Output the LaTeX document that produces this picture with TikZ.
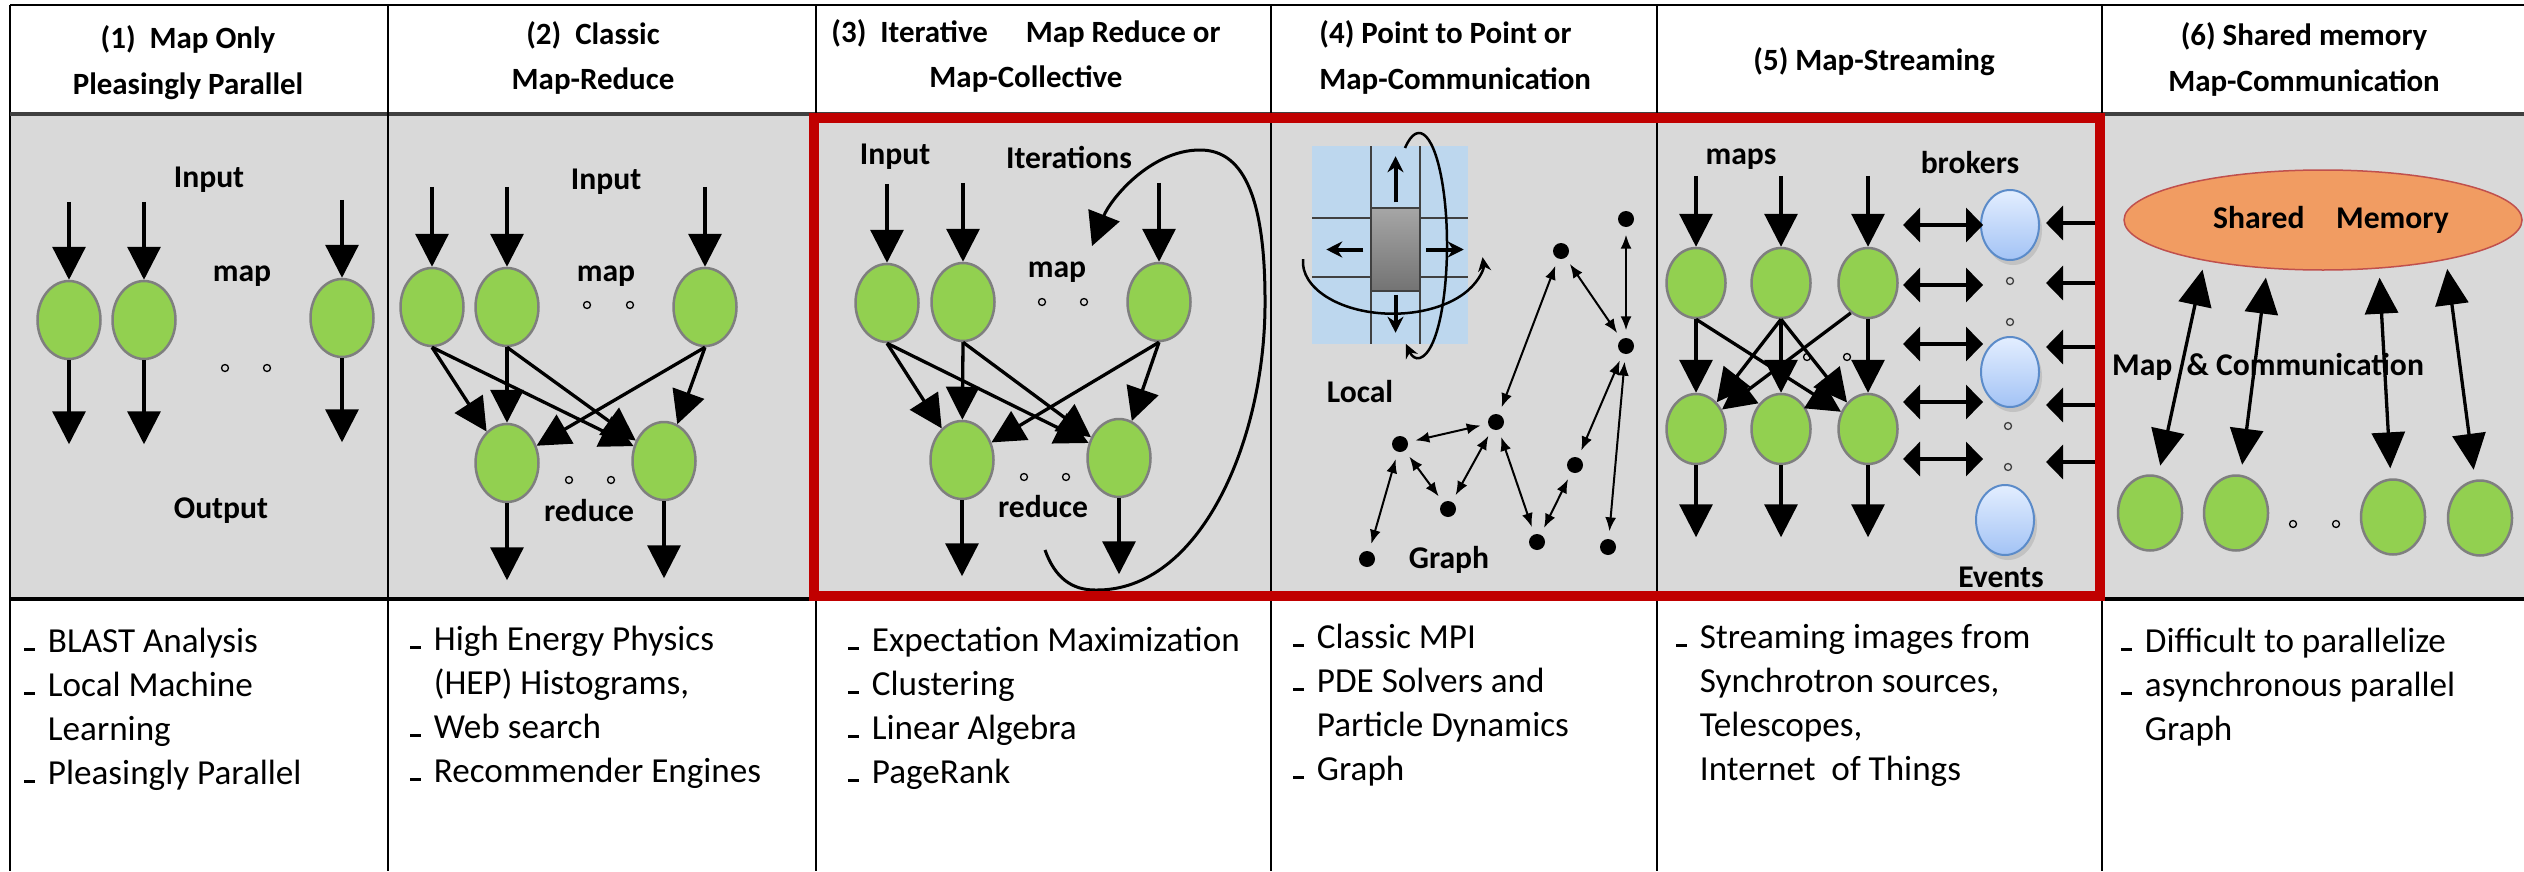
\documentclass[tikz,border=0pt]{standalone}
\usepackage{fontspec}
\setmainfont{Carlito}
\usetikzlibrary{arrows.meta,shapes.geometric,shadows}
\definecolor{Panel}{HTML}{D9D9D9}
\definecolor{Leaf}{HTML}{92D050}
\definecolor{Rim}{HTML}{7F7F7F}
\definecolor{Frame}{HTML}{C00000}
\definecolor{Memo}{HTML}{F19C62}
\definecolor{MemoRim}{HTML}{C0504D}
\definecolor{Sky}{HTML}{BDD7EE}
\definecolor{Grid}{HTML}{404040}
\definecolor{BlockTop}{HTML}{A6A6A6}
\definecolor{BlockBot}{HTML}{737373}
\definecolor{BrokTop}{HTML}{E3EEFF}
\definecolor{BrokBot}{HTML}{A3C3F5}
\definecolor{BrokRim}{HTML}{5B8BC9}
\newcommand{\itm}{\makebox[2.35mm][l]{\rule[0.1mm]{1.1mm}{0.3mm}}}
\newcommand{\cont}{\hspace*{2.35mm}}

\begin{document}
\begin{tikzpicture}[x=0.1mm,y=-0.1mm,
  mapnode/.style={ellipse,draw=Rim,line width=0.25mm,fill=Leaf,minimum width=6.3mm,minimum height=7.8mm,inner sep=0pt},
  broker/.style={ellipse,draw=BrokRim,line width=0.2mm,top color=BrokTop,bottom color=BrokBot,minimum width=5.8mm,minimum height=7mm,inner sep=0pt,drop shadow={opacity=0.25,shadow xshift=0.3mm,shadow yshift=-0.5mm}},
  block/.style={rectangle,draw=Grid,line width=0.15mm,top color=BlockTop,bottom color=BlockBot,minimum width=4.9mm,minimum height=8.3mm,inner sep=0pt},
  tick/.style={circle,draw,line width=0.13mm,inner sep=0pt,minimum size=0.7mm},
  gdot/.style={circle,fill,inner sep=0pt,minimum size=1.6mm},
  fat/.style={line width=0.33mm,-{Triangle[length=3.3mm,width=3.3mm]}},
  darr/.style={line width=0.33mm,{Triangle[length=1.7mm,width=3.4mm]}-{Triangle[length=1.7mm,width=3.4mm]}},
  harr/.style={line width=0.33mm,-{Triangle[length=1.7mm,width=3.4mm]}},
  marr/.style={line width=0.33mm,{Triangle[length=3.6mm,width=3.3mm]}-{Triangle[length=3.6mm,width=3.3mm]},shorten <=1mm,shorten >=0.9mm},
  sarr/.style={line width=0.4mm,-{Stealth[length=1.6mm,width=1.6mm]}},
  orb/.style={line width=0.25mm,-{Stealth[length=1.4mm,width=1.3mm]}},
  gl/.style={line width=0.2mm,{Latex[length=1.4mm,width=1.1mm]}-{Latex[length=1.4mm,width=1.1mm]},shorten <=0.7mm,shorten >=0.7mm},
  lbl/.style={font=\bfseries\fontsize{9}{11}\selectfont},
  hdr/.style={font=\bfseries\fontsize{8.8}{13}\selectfont,align=center,anchor=base},
  txt/.style={font=\fontsize{10}{12.5}\selectfont,align=left,anchor=base west}]
  \useasboundingbox (0,0) rectangle (2524,871);
  \fill[Panel] (10,114) rectangle (2524,599);
  \fill[Sky] (1312,146) rectangle (1468,344);
  \draw[Grid,line width=0.15mm] (1371,146) -- (1371,344) (1420,146) -- (1420,344) (1312,218) -- (1468,218) (1312,277) -- (1468,277);
  \draw[line width=0.2mm] (10,5) -- (2524,5) (10,5) -- (10,871);
  \draw[Grid,line width=0.35mm] (10,114) -- (2524,114);
  \draw[line width=0.35mm] (10,599) -- (2524,599);
  \foreach \x in {388,816,1271,1657,2102}
    \draw[line width=0.2mm] (\x,5) -- (\x,871);

  \node[hdr] (h1) at (188,94) {(1)\ \ Map Only\\Pleasingly Parallel};
  \node[hdr] (h2) at (593,90) {(2)\ \ Classic\\Map-Reduce};
  \node[hdr] (h3) at (1026,88) {(3)\ \ Iterative\quad\ Map Reduce or\\Map-Collective};
  \node[hdr,anchor=base west,align=left] (h4) at (1307,89) {(4) Point to Point or\\Map-Communication};
  \node[hdr] (h5) at (1874,70) {(5) Map-Streaming};
  \node[hdr] (h6) at (2304,91) {(6) Shared memory\\Map-Communication};

  \node[lbl] (in1) at (209,180) {Input};
  \node[lbl] (mp1) at (242,276) {map};
  \node[lbl] (out1) at (221,511) {Output};
  \node[tick] (d11) at (225,368) {};
  \node[tick] (d12) at (267,368) {};
  \node[mapnode] (a1) at (69,320) {};
  \node[mapnode] (a2) at (144,320) {};
  \node[mapnode] (a3) at (342,318) {};
  \foreach \n in {a1,a2,a3} {
    \draw[fat] ([yshift=7.8mm]\n.north) -- (\n.north);
    \draw[fat] (\n.south) -- ([yshift=-8.4mm]\n.south);
  }

  \node[lbl] (in2) at (606,182) {Input};
  \node[lbl] (mp2) at (606,276) {map};
  \node[lbl] (rd2) at (589,511) {reduce};
  \node[tick] (d21) at (587,305) {};
  \node[tick] (d22) at (630,305) {};
  \node[tick] (d23) at (569,480) {};
  \node[tick] (d24) at (611,480) {};
  \node[mapnode] (m1) at (432,307) {};
  \node[mapnode] (m2) at (507,307) {};
  \node[mapnode] (m3) at (705,307) {};
  \node[mapnode] (r1) at (507,463) {};
  \node[mapnode] (r2) at (664,461) {};
  \foreach \n in {m1,m2,m3}
    \draw[fat] ([yshift=8mm]\n.north) -- (\n.north);
  \foreach \s/\t in {m1/r1,m1/r2,m2/r1,m2/r2,m3/r1,m3/r2}
    \draw[fat] (\s.south) -- (\t);
  \foreach \n in {r1,r2}
    \draw[fat] (\n.south) -- ([yshift=-7.7mm]\n.south);

  \node[lbl] (in3) at (895,157) {Input};
  \node[lbl] (it3) at (1069,157) {Iterations};
  \node[lbl] (mp3) at (1057,272) {map};
  \node[lbl] (rd3) at (1043,507) {reduce};
  \node[tick] (d31) at (1042,302) {};
  \node[tick] (d32) at (1084,302) {};
  \node[tick] (d33) at (1024,477) {};
  \node[tick] (d34) at (1066,477) {};
  \node[mapnode] (p1) at (887,303) {};
  \node[mapnode] (p2) at (963,302) {};
  \node[mapnode] (p3) at (1159,302) {};
  \node[mapnode] (s1) at (962,460) {};
  \node[mapnode] (s2) at (1119,458) {};
  \foreach \n in {p1,p2,p3}
    \draw[fat] ([yshift=7.9mm]\n.north) -- (\n.north);
  \foreach \s/\t in {p1/s1,p1/s2,p2/s1,p2/s2,p3/s1,p3/s2}
    \draw[fat] (\s.south) -- (\t);
  \foreach \n in {s1,s2}
    \draw[fat] (\n.south) -- ([yshift=-7.6mm]\n.south);
  \draw[line width=0.3mm,-{Triangle[length=3.3mm,width=3.3mm]}] (1045,550)
    .. controls (1055,578) and (1072,590) .. (1095,590)
    .. controls (1200,592) and (1266,440) .. (1265,300)
    .. controls (1265,180) and (1235,150) .. (1200,150)
    .. controls (1150,150) and (1110,200) .. (1092,246);

  \node[block] (cell) at (1395.5,249.5) {};
  \draw[sarr] ([yshift=0.5mm]cell.north) -- ([yshift=5.1mm]cell.north);
  \draw[sarr] ([yshift=-0.3mm]cell.south) -- ([yshift=-4.1mm]cell.south);
  \draw[sarr] ([xshift=-0.7mm]cell.west) -- ([xshift=-4.4mm]cell.west);
  \draw[sarr] ([xshift=0.5mm]cell.east) -- ([xshift=4.3mm]cell.east);
  \draw[orb] (1303,259) arc[start angle=-177,end angle=-365,x radius=90,y radius=52];
  \draw[orb] (1405,148) arc[start angle=-120,end angle=118,x radius=28,y radius=112];
  \node[lbl] (loc) at (1360,392) {Local};
  \node[lbl] (gr) at (1449,560) {Graph};
  \node[gdot] (g1) at (1367,559) {};
  \node[gdot] (g2) at (1400,444) {};
  \node[gdot] (g3) at (1448,509) {};
  \node[gdot] (g4) at (1496,422) {};
  \node[gdot] (g5) at (1561,251) {};
  \node[gdot] (g6) at (1626,219) {};
  \node[gdot] (g7) at (1626,346) {};
  \node[gdot] (g8) at (1575,465) {};
  \node[gdot] (g9) at (1537,542) {};
  \node[gdot] (g10) at (1608,547) {};
  \foreach \a/\b in {g1/g2,g2/g4,g2/g3,g3/g4,g4/g5,g5/g7,g6/g7,g4/g9,g9/g8,g8/g7,g7/g10}
    \draw[gl] (\a) -- (\b);

  \node[lbl] (mps) at (1741,159) {maps};
  \node[lbl] (brk) at (1970,163) {brokers};
  \node[lbl] (evt) at (2001,577) {Events};
  \node[tick] (d51) at (1807,357) {};
  \node[tick] (d52) at (1847,357) {};
  \foreach \x [count=\i] in {1696,1781,1868} {
    \node[mapnode,minimum width=5.9mm,minimum height=7mm] (q\i) at (\x,283) {};
    \node[mapnode,minimum width=5.9mm,minimum height=7mm] (n\i) at (\x,429) {};
    \draw[fat] ([yshift=7.1mm]q\i.north) -- (q\i.north);
    \draw[fat] (q\i) -- (n\i);
    \draw[fat] (n\i.south) -- ([yshift=-7.2mm]n\i.south);
  }
  \draw[fat] (q1.south) -- (n3);
  \draw[fat] (q2.south) -- (n1);
  \draw[fat] (q2.south) -- (n3);
  \draw[fat] (q3.240) -- (n1);
  \node[broker] (b1) at (2010,225) {};
  \node[broker] (b2) at (2010,372) {};
  \node[broker] (b3) at (2005,520) {};
  \node[tick,draw=Grid] (d53) at (2010,281) {};
  \node[tick,draw=Grid] (d54) at (2010,322) {};
  \node[tick,draw=Grid] (d55) at (2008,426) {};
  \node[tick,draw=Grid] (d56) at (2008,467) {};
  \foreach \y [count=\i] in {225,285,344,402,459}
    \draw[darr] (1903,\y) coordinate (dl\i) -- (1983,\y) coordinate (dr\i);
  \foreach \y [count=\i] in {223,283,347,405,462}
    \draw[harr] (2096,\y) coordinate (ev\i) -- (2046,\y) coordinate (et\i);

  \node[ellipse,draw=MemoRim,line width=0.15mm,fill=Memo,minimum width=39.8mm,minimum height=10mm,inner sep=0pt,lbl] (mem) at (2323,220) {\hspace{1.6mm}Shared\quad Memory};
  \node[lbl] (mc) at (2268,367) {Map\ \ \& Communication};
  \node[mapnode,minimum width=6.4mm,minimum height=7.5mm] (c1) at (2150,513) {};
  \node[mapnode,minimum width=6.4mm,minimum height=7.5mm] (c2) at (2236,513) {};
  \node[mapnode,minimum width=6.4mm,minimum height=7.5mm] (c3) at (2393,517) {};
  \node[mapnode,minimum width=6.4mm,minimum height=7.5mm] (c4) at (2480,518) {};
  \node[tick] (d61) at (2293,524) {};
  \node[tick] (d62) at (2336,524) {};
  \draw[marr] (c1) -- (mem.199);
  \draw[marr] (c2) -- (mem.221);
  \draw[marr] (c3) -- (mem.319);
  \draw[marr] (c4) -- (mem.342);

  \draw[Frame,line width=1mm] (814,118) rectangle (2100,596);

  \node[txt] (t1) at (12,784) {\itm BLAST Analysis\\\itm Local Machine\\\cont Learning\\\itm Pleasingly Parallel};
  \node[txt] (t2) at (398,782) {\itm High Energy Physics\\\cont (HEP) Histograms,\\\itm Web search\\\itm Recommender Engines};
  \node[txt] (t3) at (836,783) {\itm Expectation Maximization\\\itm Clustering\\\itm Linear Algebra\\\itm PageRank};
  \node[txt] (t4) at (1281,780) {\itm Classic MPI\\\itm PDE Solvers and\\\cont Particle Dynamics\\\itm Graph};
  \node[txt] (t5) at (1664,780) {\itm Streaming images from\\\cont Synchrotron sources,\\\cont Telescopes,\\\cont Internet\ \ of Things};
  \node[txt] (t6) at (2109,740) {\itm Difficult to parallelize\\\itm asynchronous parallel\\\cont Graph};
\end{tikzpicture}
\end{document}
